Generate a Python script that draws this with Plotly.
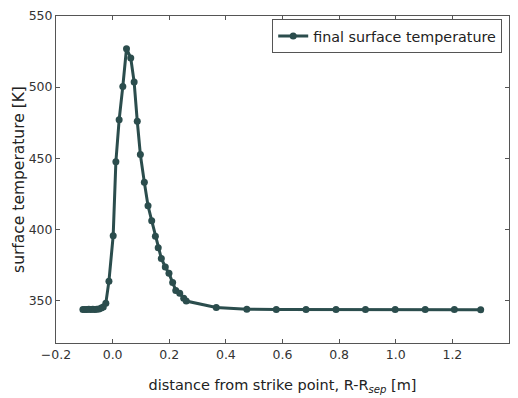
import plotly.graph_objects as go

# distance from strike point R-R_sep [m]
distance = [-0.105, -0.098, -0.091, -0.084, -0.077, -0.07, -0.063, -0.056, -0.048, -0.040,
            -0.033, -0.024, -0.013, 0.002, 0.0115, 0.023, 0.036, 0.049, 0.064, 0.076,
            0.087, 0.098, 0.112, 0.125, 0.138, 0.151, 0.161, 0.172, 0.186, 0.199,
            0.212, 0.223, 0.237, 0.251, 0.260, 0.366, 0.474, 0.578, 0.683, 0.789,
            0.893, 0.998, 1.104, 1.207, 1.300]
# final surface temperature [K]
temperature = [343.5, 343.6, 343.5, 343.7, 343.6, 343.8, 343.5, 343.7, 344.0, 344.6,
               345.3, 348.0, 363.5, 395.5, 447.5, 477.0, 500.5, 527.0, 520.5, 503.5,
               476.0, 452.5, 433.0, 416.5, 406.0, 395.0, 387.0, 379.5, 373.5, 369.0,
               362.5, 357.0, 355.0, 351.5, 349.5, 345.0, 343.8, 343.5, 343.5, 343.5,
               343.5, 343.6, 343.5, 343.5, 343.4]

x_ticks = [-0.2, 0.0, 0.2, 0.4, 0.6, 0.8, 1.0, 1.2, 1.4]
x_ticklabels = ["\u22120.2", "0.0", "0.2", "0.4", "0.6", "0.8", "1.0", "1.2", "1.4"]
y_ticks = [350, 400, 450, 500, 550]

color = "#2b4d4d"
font_family = "DejaVu Sans"

fig = go.Figure()
fig.add_trace(go.Scatter(
    x=distance, y=temperature, mode="lines+markers",
    name="final surface temperature",
    line=dict(color=color, width=3),
    marker=dict(color=color, size=7),
))

axis_common = dict(
    showgrid=False, zeroline=False, showline=True, linecolor="#555555", linewidth=1,
    mirror="allticks", ticks="inside", ticklen=4, tickcolor="#555555",
    tickfont=dict(family=font_family, size=12.5, color="#333333"),
)

fig.update_layout(
    width=518, height=398,
    margin=dict(l=56, r=8, t=15, b=51),
    paper_bgcolor="white", plot_bgcolor="white",
    font=dict(family=font_family, color="#333333"),
    showlegend=True,
    legend=dict(
        x=0.985, y=0.99, xanchor="right", yanchor="top",
        bordercolor="#555555", borderwidth=1, bgcolor="white",
        font=dict(family=font_family, size=14.3, color="#222222"),
        itemwidth=30,
    ),
    xaxis=dict(
        range=[-0.2, 1.4], tickvals=x_ticks, ticktext=x_ticklabels,
        title=dict(text="distance from strike point, R-R<sub><i>sep</i></sub> [m]",
                   font=dict(family=font_family, size=14.5, color="#222222"), standoff=18),
        **axis_common,
    ),
    yaxis=dict(
        range=[320, 550], tickvals=y_ticks,
        title=dict(text="surface temperature [K]",
                   font=dict(family=font_family, size=15.5, color="#222222"), standoff=0),
        **axis_common,
    ),
)

fig.write_html("out.html")
